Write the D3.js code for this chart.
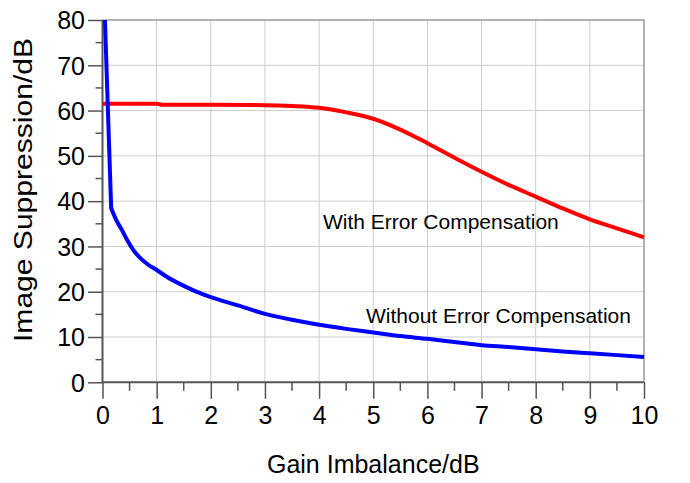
<!DOCTYPE html>
<html>
<head>
<meta charset="utf-8">
<script src="https://cdn.jsdelivr.net/npm/d3@7"></script>
<style>
  html, body { margin: 0; padding: 0; background: #fff; }
  svg { display: block; font-family: "Liberation Sans", Arial, sans-serif; }
</style>
</head>
<body>
<svg id="chart" width="690" height="483"></svg>
<script>
// Gain imbalance (dB) and resulting image suppression (dB)
const compX = [0, 1, 1.1, 2, 3, 3.5, 4, 4.5, 5, 5.5, 6, 6.5, 7, 7.5, 8, 8.5, 9, 9.5, 10];
const compY = [61.5, 61.5, 61.3, 61.3, 61.2, 61.0, 60.6, 59.6, 58.2, 55.8, 52.8, 49.6, 46.5, 43.6, 41.0, 38.4, 36.0, 34.0, 32.0];

const rawX = [0.045, 0.16, 0.25, 0.36, 0.46, 0.57, 0.7, 0.85, 1.0, 1.2, 1.4, 1.7, 2.0, 2.5, 3, 3.5, 4, 4.5, 5, 5.5, 6, 6.5, 7, 7.5, 8, 8.5, 9, 9.5, 10];
const rawY = [80, 38.5, 35.9, 33.6, 31.3, 29.2, 27.4, 25.9, 24.8, 23.2, 21.9, 20.2, 18.8, 17.0, 15.1, 13.8, 12.7, 11.8, 11.0, 10.2, 9.6, 8.9, 8.2, 7.8, 7.3, 6.8, 6.4, 6.0, 5.6];

const xTicks = [0, 1, 2, 3, 4, 5, 6, 7, 8, 9, 10];
const yTicks = [0, 10, 20, 30, 40, 50, 60, 70, 80];
const xMinor = [0.5, 1.5, 2.5, 3.5, 4.5, 5.5, 6.5, 7.5, 8.5, 9.5];
const yMinor = [5, 15, 25, 35, 45, 55, 65, 75];

const labels = [
  { text: "With Error Compensation", x: 323, y: 229 },
  { text: "Without Error Compensation", x: 366, y: 323 }
];

const svg = d3.select("#chart");
const m = { left: 102.5, top: 20, right: 644, bottom: 382.3 };

const x = d3.scaleLinear().domain([0, 10]).range([m.left, m.right]);
const y = d3.scaleLinear().domain([0, 80]).range([m.bottom, m.top]);

// grid
const grid = svg.append("g");
grid.selectAll(".gx").data(xTicks.slice(1, -1)).join("line")
  .attr("x1", d => x(d)).attr("x2", d => x(d))
  .attr("y1", m.top).attr("y2", m.bottom)
  .attr("stroke", "#cccccc").attr("stroke-width", 1);
grid.selectAll(".gy").data(yTicks.slice(1, -1)).join("line")
  .attr("x1", m.left).attr("x2", m.right)
  .attr("y1", d => y(d)).attr("y2", d => y(d))
  .attr("stroke", "#cccccc").attr("stroke-width", 1);

// frame (top / right)
svg.append("path")
  .attr("d", `M${m.left},${m.top}H${m.right}V${m.bottom}`)
  .attr("fill", "none").attr("stroke", "#999").attr("stroke-width", 1.5);

// axes
const xAxis = d3.axisBottom(x).tickValues(xTicks).tickSize(16.5).tickPadding(7).tickFormat(d3.format("d"));
const yAxis = d3.axisLeft(y).tickValues(yTicks).tickSize(14.5).tickPadding(3).tickFormat(d3.format("d"));

const gx = svg.append("g").attr("transform", `translate(0,${m.bottom})`).call(xAxis);
gx.append("g").selectAll("line").data(xMinor).join("line")
  .attr("x1", d => x(d)).attr("x2", d => x(d)).attr("y1", 0).attr("y2", 8.5);
const gy = svg.append("g").attr("transform", `translate(${m.left},0)`).call(yAxis);
gy.append("g").selectAll("line").data(yMinor).join("line")
  .attr("y1", d => y(d)).attr("y2", d => y(d)).attr("x1", 0).attr("x2", -7);

[gx, gy].forEach(g => {
  g.select(".domain").attr("stroke", "#555").attr("stroke-width", 2);
  g.selectAll("line").attr("stroke", "#555").attr("stroke-width", 1.5);
  g.selectAll("text").attr("fill", "#000").style("font-size", "25px")
    .style("font-family", "'Liberation Sans', Arial, sans-serif");
});
gx.select(".domain").attr("d", `M${m.left},0H${m.right}`);
gy.select(".domain").attr("d", `M0,${m.bottom}V${m.top}`);
gy.selectAll(".tick text").attr("dy", "0.35em");

// curves
const smooth = d3.line().x(d => x(d[0])).y(d => y(d[1])).curve(d3.curveMonotoneX);
const straight = d3.line().x(d => x(d[0])).y(d => y(d[1])).curve(d3.curveLinear);
const compPts = compX.map((v, i) => [v, compY[i]]);
const rawPts = rawX.map((v, i) => [v, rawY[i]]);

svg.append("path").datum(compPts)
  .attr("d", smooth).attr("fill", "none").attr("stroke", "#ff0000")
  .attr("stroke-width", 4).attr("stroke-linejoin", "round");

// uncompensated: steep drop, then a smooth tail from the knee on
const blue = svg.append("g").attr("fill", "none").attr("stroke", "#0000ff")
  .attr("stroke-width", 4).attr("stroke-linejoin", "round");
blue.append("path").datum(rawPts.slice(0, 2)).attr("d", straight);
blue.append("path").datum(rawPts.slice(1)).attr("d", smooth);
blue.append("circle").attr("cx", x(rawX[1])).attr("cy", y(rawY[1])).attr("r", 2)
  .attr("fill", "#0000ff").attr("stroke", "none");

// curve annotations
svg.selectAll(".lab").data(labels).join("text")
  .attr("x", d => d.x).attr("y", d => d.y)
  .style("font-size", "21px").attr("fill", "#000").text(d => d.text);

// axis titles
svg.append("text").attr("x", (m.left + m.right) / 2).attr("y", 473)
  .attr("text-anchor", "middle").style("font-size", "25px").text("Gain Imbalance/dB");
svg.append("text").attr("transform", `translate(32,190) rotate(-90)`)
  .attr("text-anchor", "middle").style("font-size", "26px")
  .attr("textLength", 304).attr("lengthAdjust", "spacingAndGlyphs")
  .text("Image Suppression/dB");
</script>
</body>
</html>
